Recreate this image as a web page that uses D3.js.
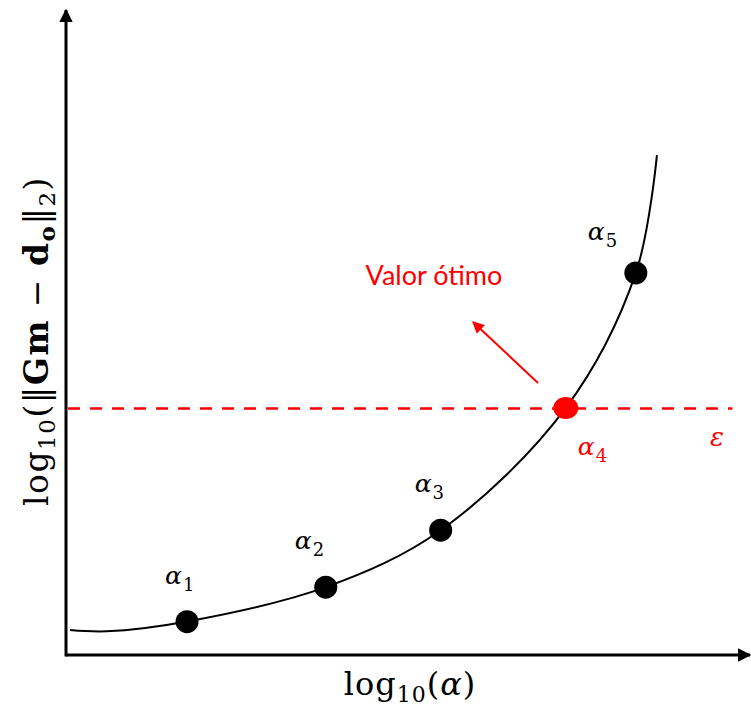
<!DOCTYPE html>
<html>
<head>
<meta charset="utf-8">
<script src="https://cdn.jsdelivr.net/npm/d3@7"></script>
<style>
  html, body { margin: 0; padding: 0; background: #fff; }
  svg { display: block; }
</style>
</head>
<body>
<svg id="chart" width="751" height="708"></svg>
<script>
// L-curve: residual norm vs. regularization parameter (schematic units)
const curveX = [0.06, 0.6, 1.76, 3.82, 5.51, 7.35, 8.38, 8.69];
const curveY = [0.39, 0.37, 0.52, 1.06, 1.95, 3.86, 5.97, 7.81];

// Sampled parameters α1..α5 on the curve
const pointLabels = ["1", "2", "3", "4", "5"];
const pointX = [1.78, 3.82, 5.51, 7.35, 8.38];
const pointY = [0.52, 1.06, 1.95, 3.86, 5.97];
const optimalIndex = 3;

// Tolerance level ε
const epsilon = 3.85;
const epsilonLabel = "ε";
const annotationText = "Valor ótimo";

const width = 751, height = 708;
const margin = { left: 66, right: 5, top: 10, bottom: 53 };
const svg = d3.select("#chart");

const x = d3.scaleLinear().domain([0, 10]).range([margin.left, margin.left + 680]);
const y = d3.scaleLinear().domain([0, 10]).range([height - margin.bottom, height - margin.bottom - 640]);

const red = "#ff0000";
const serif = "DejaVu Serif, serif";

// Arrow markers
const defs = svg.append("defs");
defs.append("marker")
  .attr("id", "axisArrow").attr("viewBox", "0 0 10 10")
  .attr("refX", 9).attr("refY", 5)
  .attr("markerWidth", 4.5).attr("markerHeight", 4.5)
  .attr("markerUnits", "strokeWidth").attr("orient", "auto")
  .append("path").attr("d", "M0,0 L10,5 L0,10 Z").attr("fill", "#000");
defs.append("marker")
  .attr("id", "redArrow").attr("viewBox", "0 0 10 10")
  .attr("refX", 9).attr("refY", 5)
  .attr("markerWidth", 6).attr("markerHeight", 6)
  .attr("markerUnits", "strokeWidth").attr("orient", "auto")
  .append("path").attr("d", "M0,0 L10,5 L0,10 Z").attr("fill", red);

// Axes without ticks, drawn as arrows
const xAxis = svg.append("g")
  .attr("transform", `translate(0,${y(0)})`)
  .call(d3.axisBottom(x).tickValues([]).tickSizeOuter(0));
xAxis.select(".domain").remove();
xAxis.append("line")
  .attr("x1", x(0)).attr("x2", width - 1)
  .attr("stroke", "#000").attr("stroke-width", 3)
  .attr("marker-end", "url(#axisArrow)");

const yAxis = svg.append("g")
  .attr("transform", `translate(${x(0)},0)`)
  .call(d3.axisLeft(y).tickValues([]).tickSizeOuter(0));
yAxis.select(".domain").remove();
yAxis.append("line")
  .attr("y1", y(0) + 1.5).attr("y2", 10)
  .attr("stroke", "#000").attr("stroke-width", 3)
  .attr("marker-end", "url(#axisArrow)");

// Tolerance line
svg.append("line")
  .attr("x1", x(0) + 2).attr("x2", x(9.8))
  .attr("y1", y(epsilon)).attr("y2", y(epsilon))
  .attr("stroke", red).attr("stroke-width", 2.5)
  .attr("stroke-dasharray", "12,10");

// Curve
const line = d3.line()
  .x((d, i) => x(curveX[i]))
  .y((d, i) => y(curveY[i]))
  .curve(d3.curveCatmullRom.alpha(0.5));
svg.append("path")
  .attr("d", line(curveX))
  .attr("fill", "none").attr("stroke", "#000").attr("stroke-width", 2);

// Points
svg.selectAll("ellipse.pt")
  .data(pointX)
  .join("ellipse")
  .attr("class", "pt")
  .attr("cx", (d, i) => x(pointX[i]))
  .attr("cy", (d, i) => y(pointY[i]))
  .attr("rx", (d, i) => i === optimalIndex ? 12.5 : 11.5)
  .attr("ry", (d, i) => i === optimalIndex ? 11 : 11.5)
  .attr("fill", (d, i) => i === optimalIndex ? red : "#000");

// Point labels α_i
const labelOffsets = [[-22, -38], [-31, -38], [-26, -38], [12, 47], [-48, -33]];
const labels = svg.selectAll("text.alpha")
  .data(pointLabels)
  .join("text")
  .attr("class", "alpha")
  .attr("x", (d, i) => x(pointX[i]) + labelOffsets[i][0])
  .attr("y", (d, i) => y(pointY[i]) + labelOffsets[i][1])
  .attr("font-family", serif)
  .attr("fill", (d, i) => i === optimalIndex ? red : "#000");
labels.append("tspan")
  .attr("font-size", 25).attr("font-style", "italic")
  .text("α");
labels.append("tspan")
  .attr("font-size", 18).attr("dy", 7).attr("dx", 1)
  .text(d => d);

// ε label
svg.append("text")
  .attr("x", x(9.47)).attr("y", y(epsilon) + 37)
  .attr("font-family", serif)
  .attr("font-style", "italic").attr("font-size", 26)
  .attr("fill", red)
  .text(epsilonLabel);

// Annotation
svg.append("text")
  .attr("x", 434).attr("y", 285)
  .attr("text-anchor", "middle")
  .attr("font-family", "Lato, sans-serif")
  .attr("font-size", 27)
  .attr("fill", red)
  .text(annotationText);
svg.append("line")
  .attr("x1", 538).attr("y1", 383)
  .attr("x2", 473).attr("y2", 322)
  .attr("stroke", red).attr("stroke-width", 2)
  .attr("marker-end", "url(#redArrow)");

// Axis titles
const xt = svg.append("text")
  .attr("x", 410).attr("y", 695)
  .attr("text-anchor", "middle")
  .attr("font-family", serif)
  .attr("font-size", 32)
  .attr("letter-spacing", 1);
xt.append("tspan").text("log");
xt.append("tspan").attr("font-size", 22).attr("dy", 7).text("10");
xt.append("tspan").attr("dy", -7).text("(");
xt.append("tspan").attr("font-style", "italic").text("α");
xt.append("tspan").text(")");

const yt = svg.append("text")
  .attr("transform", "translate(48,341) rotate(-90)")
  .attr("text-anchor", "middle")
  .attr("font-family", serif)
  .attr("font-size", 33)
  .attr("letter-spacing", 1.5);
yt.append("tspan").text("log");
yt.append("tspan").attr("font-size", 23).attr("dy", 7).text("10");
yt.append("tspan").attr("dy", -7).text("(‖");
yt.append("tspan").attr("font-weight", "bold").text("Gm");
yt.append("tspan").text(" − ");
yt.append("tspan").attr("font-weight", "bold").text("d");
yt.append("tspan").attr("font-weight", "bold").attr("font-size", 23).attr("dy", 7).text("o");
yt.append("tspan").attr("dy", -7).text("‖");
yt.append("tspan").attr("font-size", 23).attr("dy", 7).text("2");
yt.append("tspan").attr("dy", -7).text(")");
</script>
</body>
</html>
